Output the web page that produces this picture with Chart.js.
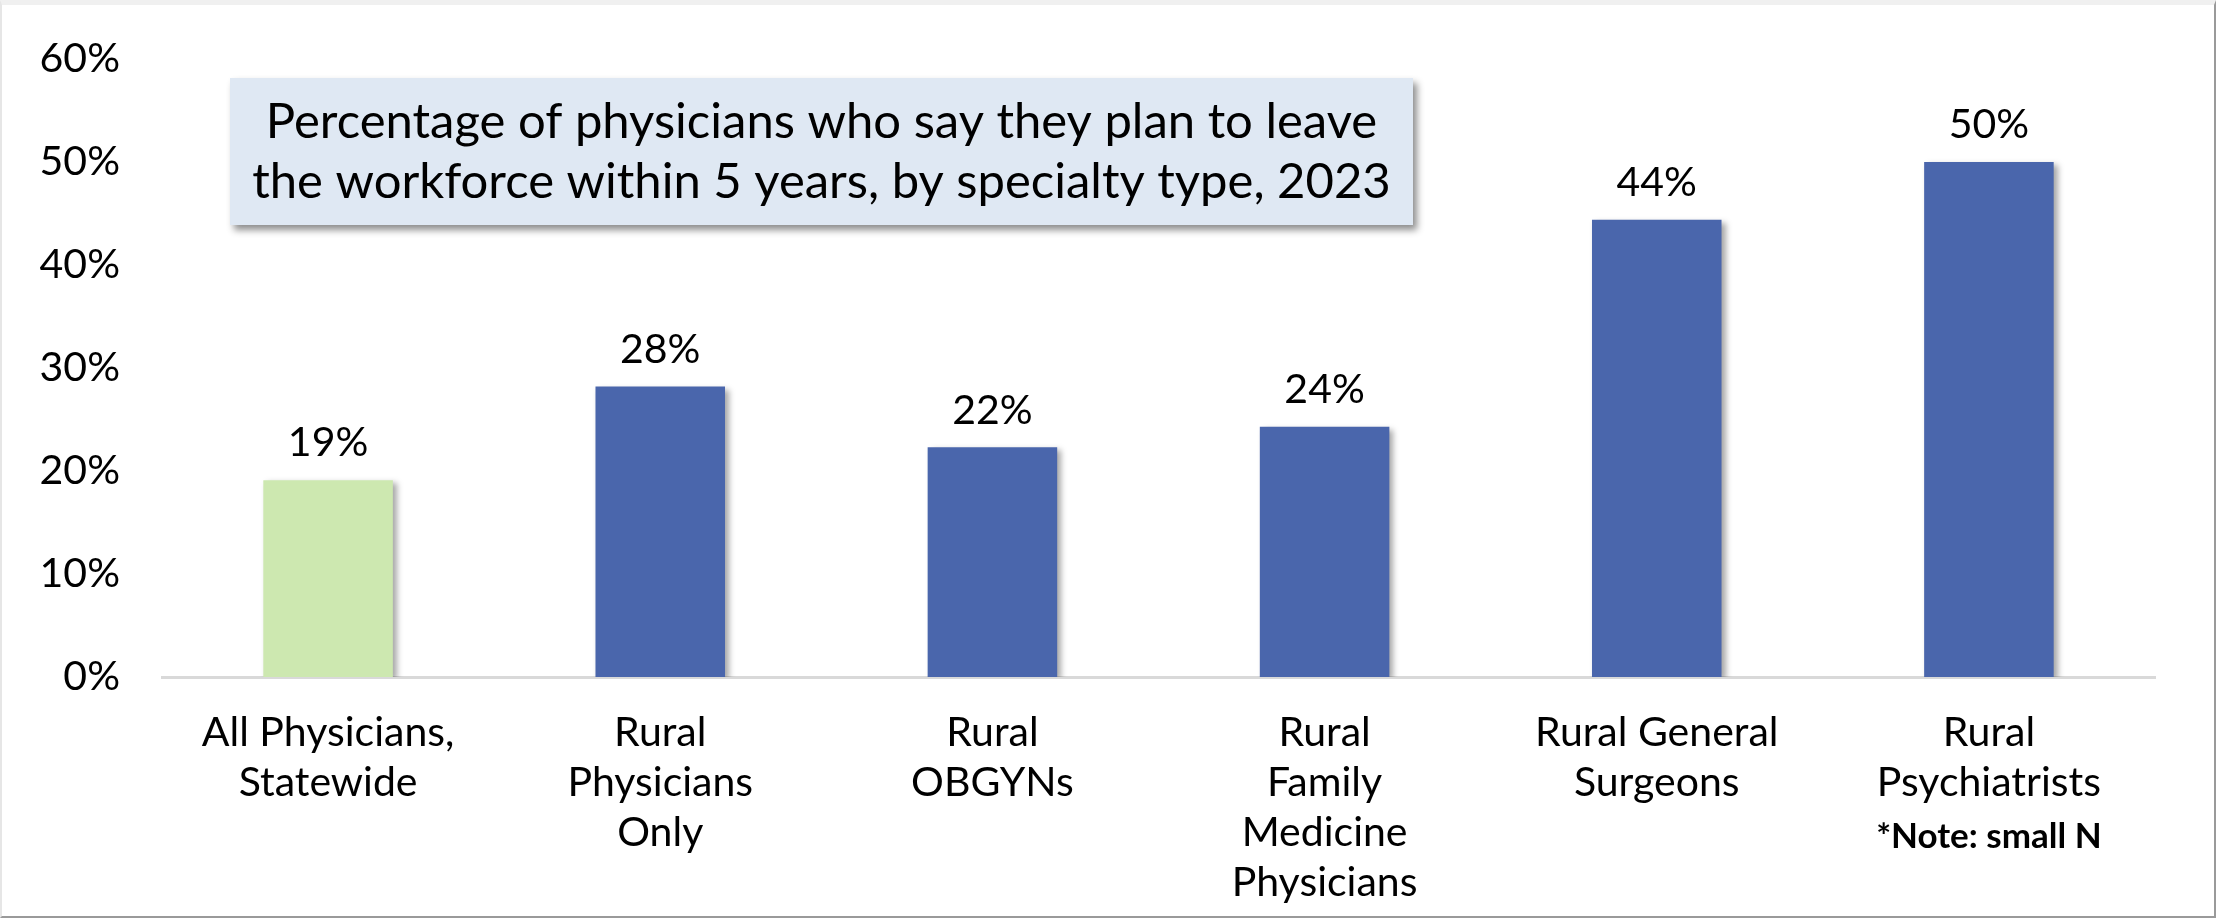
<!DOCTYPE html>
<html lang="en">
<head>
  <meta charset="UTF-8" />
  <title>Physicians planning to leave the workforce</title>
  <style>
    body { margin: 0; background: #fff; }
    #wrap { position: relative; width: 2216px; height: 918px; }
    #frame {
      position: absolute; left: 0; top: 0; width: 2216px; height: 918px;
      box-sizing: border-box; pointer-events: none;
      border-top: 5px solid #f0f0f0; border-left: 2px solid #e6e6e6;
      border-right: 2px solid #9a9a9a; border-bottom: 2px solid #9a9a9a;
    }
  </style>
</head>
<body>
  <div id="wrap">
    <canvas id="leaveChart" width="2216" height="918"></canvas>
    <div id="frame"></div>
  </div>

  <script src="https://cdn.jsdelivr.net/npm/chart.js"></script>
  <script>
    const categories = [
      ['All Physicians,', 'Statewide'],
      ['Rural', 'Physicians', 'Only'],
      ['Rural', 'OBGYNs'],
      ['Rural', 'Family', 'Medicine', 'Physicians'],
      ['Rural General', 'Surgeons'],
      ['Rural', 'Psychiatrists']
    ];
    const percentLeaving = [19.1, 28.2, 22.3, 24.3, 44.4, 50.0];
    const barColors = ['#cde8b0', '#4a66ac', '#4a66ac', '#4a66ac', '#4a66ac', '#4a66ac'];
    const yTicks = [0, 10, 20, 30, 40, 50, 60];
    const titleLines = [
      'Percentage of physicians who say they plan to leave',
      'the workforce within 5 years, by specialty type, 2023'
    ];
    const noteIndex = 5;
    const noteText = '*Note: small N';

    const FONT = "Lato, 'Open Sans', sans-serif";

    // bar shadows + value labels above bars
    const barExtras = {
      id: 'barExtras',
      beforeDatasetsDraw(chart) {
        const ctx = chart.ctx;
        ctx.save();
        ctx.shadowColor = 'rgba(0,0,0,0.35)';
        ctx.shadowBlur = 6;
        ctx.shadowOffsetX = 4;
        ctx.shadowOffsetY = 3;
      },
      afterDatasetsDraw(chart) {
        const ctx = chart.ctx;
        ctx.restore();
        ctx.save();
        ctx.font = '41px ' + FONT;
        ctx.fillStyle = '#000';
        ctx.textAlign = 'center';
        ctx.textBaseline = 'middle';
        chart.getDatasetMeta(0).data.forEach((bar, i) => {
          ctx.fillText(Math.round(percentLeaving[i]) + '%', bar.x, bar.y - 37);
        });
        ctx.restore();
      }
    };

    // title box and the small-N note under the last category
    const decorations = {
      id: 'decorations',
      afterDraw(chart) {
        const ctx = chart.ctx;
        const area = chart.chartArea;
        const boxX = area.left + 68, boxY = area.top + 19, boxW = 1183, boxH = 147;
        ctx.save();
        ctx.shadowColor = 'rgba(0,0,0,0.45)';
        ctx.shadowBlur = 7;
        ctx.shadowOffsetX = 4;
        ctx.shadowOffsetY = 5;
        ctx.fillStyle = '#dfe8f3';
        ctx.fillRect(boxX, boxY, boxW, boxH);
        ctx.restore();

        ctx.save();
        ctx.font = '49px ' + FONT;
        ctx.fillStyle = '#000';
        ctx.textAlign = 'center';
        ctx.textBaseline = 'middle';
        titleLines.forEach((line, i) => {
          ctx.fillText(line, boxX + boxW / 2, boxY + 44 + i * 60);
        });

        const xScale = chart.scales.x;
        ctx.font = 'bold 35px ' + FONT;
        ctx.fillText(noteText, xScale.getPixelForValue(noteIndex), xScale.top + 160);
        ctx.restore();
      }
    };

    new Chart(document.getElementById('leaveChart').getContext('2d'), {
      type: 'bar',
      data: {
        labels: categories,
        datasets: [{
          data: percentLeaving,
          backgroundColor: barColors,
          borderWidth: 0,
          barPercentage: 0.39,
          categoryPercentage: 1
        }]
      },
      options: {
        responsive: false,
        animation: false,
        layout: { padding: { top: 59, right: 61, bottom: 0, left: 0 } },
        plugins: {
          legend: { display: false },
          tooltip: { enabled: false }
        },
        scales: {
          x: {
            grid: { display: false, drawTicks: false },
            border: { display: true, color: '#d9d9d9', width: 3 },
            ticks: {
              color: '#000',
              padding: 31,
              maxRotation: 0,
              autoSkip: false,
              font: { family: FONT, size: 41, lineHeight: 1.22 }
            },
            afterFit(scale) { scale.height = 241; }
          },
          y: {
            min: 0,
            max: 60,
            grid: { display: false, drawTicks: false },
            border: { display: false },
            afterBuildTicks(scale) { scale.ticks = yTicks.map(v => ({ value: v })); },
            ticks: {
              color: '#000',
              padding: 42,
              font: { family: FONT, size: 41 },
              callback: v => v + '%'
            },
            afterFit(scale) {
              scale.width = 162;
              // tick padding would otherwise push the plot top down
              scale.paddingTop = 0;
              scale.paddingBottom = 0;
            }
          }
        }
      },
      plugins: [barExtras, decorations]
    });
  </script>
</body>
</html>
